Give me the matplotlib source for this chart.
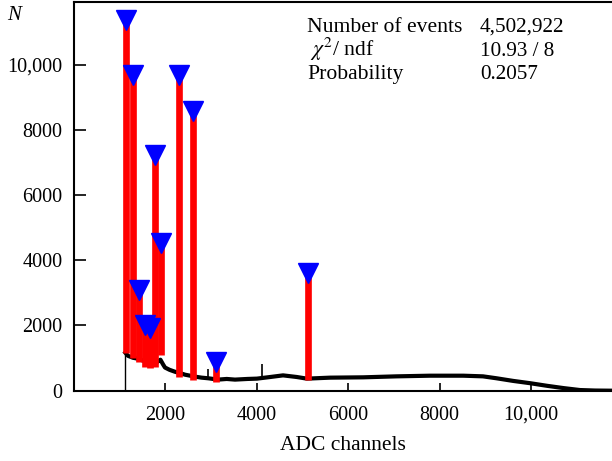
import numpy as np
import matplotlib.pyplot as plt
from matplotlib.ticker import FixedLocator, FuncFormatter

plt.rcParams['font.family'] = ['Liberation Serif', 'DejaVu Serif']
plt.rcParams['mathtext.fontset'] = 'stix'

# background spectrum under the peaks (ADC channel, counts)
bg_adc = [1133, 1190, 1300, 1410, 1560, 1690, 1780, 1850, 1900, 1960, 2000,
          2100, 2220, 2330, 2440, 2550, 2660, 2800, 2950, 3160, 3350, 3530,
          3800, 4010, 4300, 4580, 4880, 5100, 5610, 6330, 7060, 7790, 8520,
          8950, 9250, 9610, 9980, 10350, 10710, 11070, 11400, 11770]
bg_counts = [1165, 1070, 1010, 980, 900, 860, 830, 900, 950, 800, 710,
             640, 580, 540, 490, 460, 430, 400, 380, 340, 360, 340,
             360, 370, 420, 470, 420, 370, 400, 410, 440, 460, 460,
             440, 380, 300, 230, 150, 80, 20, 5, 0]

# narrow single-channel spikes
spike_adc = [2950, 4120]
spike_top = [680, 830]

# found peaks: position, height, and background level at the peak
peak_adc = [1148, 1300, 1432, 1563, 1672, 1781, 1913, 2306, 2612, 3115, 5126]
peak_counts = [11370, 9685, 3080, 2020, 1920, 7230, 4530, 9685, 8580, 880, 3610]
peak_base = [1165, 1010, 890, 740, 700, 740, 1100, 430, 340, 270, 340]

stats_names = ['Number of events', r' $\chi^2$/ ndf', 'Probability']
stats_values = ['4,502,922', '10.93 / 8', '0.2057']

fig = plt.figure(figsize=(6.12, 4.61), dpi=100)
ax = fig.add_axes([0.1201, 0.1525, 0.8799, 0.8432])

ax.vlines(bg_adc[0], 0, bg_counts[0], color='black', lw=1.0)
ax.plot(bg_adc, bg_counts, color='black', lw=3.0, solid_joinstyle='round')
ax.vlines(spike_adc, np.interp(spike_adc, bg_adc, bg_counts), spike_top,
          color='black', lw=1.2)

ax.vlines(peak_adc, peak_base, peak_counts, color='red', lw=4.8)
ax.plot(peak_adc, peak_counts, 'v', color='blue', ms=14.5, mec='blue',
        clip_on=False, zorder=5)

ax.set_xlim(0, 11770)
ax.set_ylim(0, 11920)


def fmt(v, pos):
    v = int(round(v))
    return f'{v:,}' if v >= 10000 else str(v)


ax.xaxis.set_major_locator(FixedLocator([2000, 4000, 6000, 8000, 10000]))
ax.yaxis.set_major_locator(FixedLocator([0, 2000, 4000, 6000, 8000, 10000]))
ax.xaxis.set_major_formatter(FuncFormatter(fmt))
ax.yaxis.set_major_formatter(FuncFormatter(fmt))
ax.tick_params(axis='y', direction='in', length=8.5, width=1.2, pad=8,
               labelsize=14.5)
ax.tick_params(axis='x', direction='in', length=6, width=1.2, pad=11,
               labelsize=14.5)

for side in ['left', 'bottom', 'top']:
    ax.spines[side].set_linewidth(1.5)
ax.spines['right'].set_visible(False)

ax.set_xlabel('ADC channels', fontsize=15.5, labelpad=8)
fig.text(14 / 612, 1 - 15 / 461, 'N', fontsize=15, style='italic',
         ha='center', va='center')

row_y = [32, 55.5, 79]
for name, val, y in zip(stats_names, stats_values, row_y):
    fig.text(307 / 612, 1 - y / 461, name, fontsize=15.6, va='baseline')
    fig.text(480 / 612, 1 - y / 461, val, fontsize=15.2, va='baseline')

fig.savefig('out.png', dpi=100)
